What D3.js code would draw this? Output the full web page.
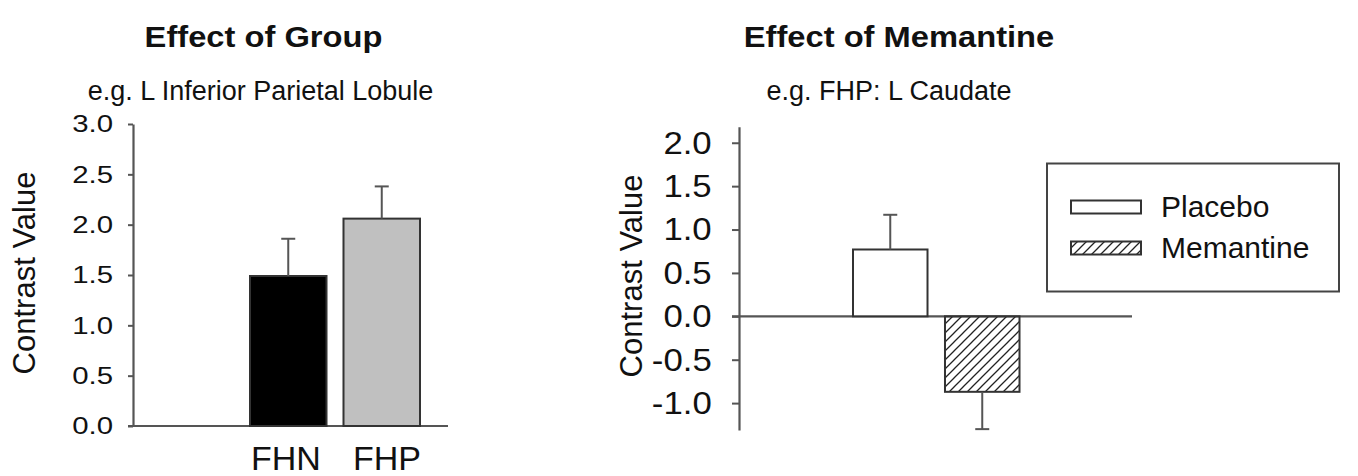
<!DOCTYPE html>
<html>
<head>
<meta charset="utf-8">
<script src="https://cdn.jsdelivr.net/npm/d3@7"></script>
<style>
  html, body { margin: 0; padding: 0; background: #fff; }
  svg { display: block; }
  text { font-family: "Liberation Sans", Arial, Helvetica, sans-serif; fill: #111; }
</style>
</head>
<body>
<svg id="chart" width="1358" height="476"></svg>
<script>
// ---------- data ----------
const groupCategories = ["FHN", "FHP"];
const groupMeans = [1.49, 2.06];
const groupSE = [0.37, 0.32];
const groupTicks = [0.0, 0.5, 1.0, 1.5, 2.0, 2.5, 3.0];

const drugCategories = ["Placebo", "Memantine"];
const drugMeans = [0.77, -0.87];
const drugSE = [0.40, 0.43];
const drugTicks = [-1.0, -0.5, 0.0, 0.5, 1.0, 1.5, 2.0];

const titles = ["Effect of Group", "Effect of Memantine"];
const subtitles = ["e.g. L Inferior Parietal Lobule", "e.g. FHP: L Caudate"];
const yLabel = "Contrast Value";

// ---------- setup ----------
const svg = d3.select("#chart");
const axisColor = "#555";
const barStroke = "#333";

const defs = svg.append("defs");
defs.append("pattern")
  .attr("id", "hatch")
  .attr("patternUnits", "userSpaceOnUse")
  .attr("width", 9).attr("height", 9)
  .append("path")
  .attr("d", "M-2,2 L2,-2 M0,9 L9,0 M7,11 L11,7")
  .attr("stroke", "#222").attr("stroke-width", 1.3);

function stretchedText(g, txt, x, y, size, weight, sx) {
  return g.append("text")
    .attr("transform", `translate(${x},${y}) scale(${sx},1)`)
    .attr("text-anchor", "middle")
    .attr("font-size", size)
    .attr("font-weight", weight)
    .text(txt);
}

// titles
stretchedText(svg, titles[0], 263.5, 47, 30, "bold", 1.09);
stretchedText(svg, titles[1], 899, 47, 30, "bold", 1.09);
stretchedText(svg, subtitles[0], 260.5, 100, 27, "normal", 1);
stretchedText(svg, subtitles[1], 889, 100, 27, "normal", 1);

// ---------- left panel ----------
const yL = d3.scaleLinear().domain([0, 3]).range([426, 124]);
const xL = d3.scaleBand().domain(groupCategories).range([250, 420]).paddingInner(0.1818).paddingOuter(0);
const xLabelL = d3.scalePoint().domain(groupCategories).range([286, 387]);

const gL = svg.append("g");
const axL = gL.append("g").attr("transform", "translate(133,0)")
  .call(d3.axisLeft(yL).tickValues(groupTicks).tickFormat(d3.format(".1f")).tickSize(5).tickSizeOuter(0));
axL.select(".domain").attr("stroke", axisColor).attr("stroke-width", 2.2);
axL.selectAll(".tick line").attr("stroke", axisColor).attr("stroke-width", 2);
axL.selectAll(".tick text")
  .attr("font-size", 23.5).attr("font-family", "Liberation Sans, Arial, sans-serif")
  .attr("fill", "#111")
  .attr("x", -20 / 1.25).attr("dy", "0.34em")
  .attr("transform", "scale(1.25,1)");

// baseline
gL.append("line").attr("x1", 128).attr("x2", 448).attr("y1", yL(0)).attr("y2", yL(0))
  .attr("stroke", axisColor).attr("stroke-width", 2.2);

const groupFills = ["#000000", "#c0c0c0"];
gL.selectAll("rect.bar").data(groupCategories).join("rect")
  .attr("class", "bar")
  .attr("x", d => xL(d))
  .attr("width", xL.bandwidth())
  .attr("y", (d, i) => yL(groupMeans[i]))
  .attr("height", (d, i) => yL(0) - yL(groupMeans[i]))
  .attr("fill", (d, i) => groupFills[i])
  .attr("stroke", barStroke).attr("stroke-width", 2);

// error bars
groupCategories.forEach((d, i) => {
  const cx = xL(d) + xL.bandwidth() / 2;
  const top = yL(groupMeans[i] + groupSE[i]);
  gL.append("line").attr("x1", cx).attr("x2", cx).attr("y1", yL(groupMeans[i])).attr("y2", top)
    .attr("stroke", axisColor).attr("stroke-width", 2);
  gL.append("line").attr("x1", cx - 7).attr("x2", cx + 7).attr("y1", top).attr("y2", top)
    .attr("stroke", axisColor).attr("stroke-width", 2);
});

// x labels
gL.selectAll("text.xl").data(groupCategories).join("text")
  .attr("class", "xl")
  .attr("x", d => xLabelL(d)).attr("y", 470)
  .attr("text-anchor", "middle").attr("font-size", 34)
  .text(d => d);

// y label
gL.append("text")
  .attr("transform", "translate(35,273) rotate(-90)")
  .attr("text-anchor", "middle").attr("font-size", 31)
  .text(yLabel);

// ---------- right panel ----------
const yR = d3.scaleLinear().domain([-1.31, 2.185]).range([430, 126.7]);
const xR = d3.scaleBand().domain(drugCategories).range([853, 1019.5]).paddingInner(0.19).paddingOuter(0);

const gR = svg.append("g");
const axR = gR.append("g").attr("transform", "translate(739,0)")
  .call(d3.axisLeft(yR).tickValues(drugTicks).tickFormat(d3.format(".1f")).tickSize(7).tickSizeOuter(0));
axR.select(".domain").attr("stroke", axisColor).attr("stroke-width", 2.2);
axR.selectAll(".tick line").attr("stroke", axisColor).attr("stroke-width", 2);
axR.selectAll(".tick text")
  .attr("font-size", 30.5).attr("font-family", "Liberation Sans, Arial, sans-serif")
  .attr("fill", "#111")
  .attr("x", -27.3 / 1.14).attr("dy", "0.34em")
  .attr("transform", "scale(1.14,1)")
  .text(d => d3.format(".1f")(d).replace("−", "-"));

// zero line
gR.append("line").attr("x1", 732).attr("x2", 1132).attr("y1", yR(0)).attr("y2", yR(0))
  .attr("stroke", axisColor).attr("stroke-width", 2.2);

const drugFills = ["#ffffff", "url(#hatch)"];
gR.selectAll("rect.bar").data(drugCategories).join("rect")
  .attr("class", "bar")
  .attr("x", d => xR(d))
  .attr("width", xR.bandwidth())
  .attr("y", (d, i) => Math.min(yR(0), yR(drugMeans[i])))
  .attr("height", (d, i) => Math.abs(yR(0) - yR(drugMeans[i])))
  .attr("fill", (d, i) => drugFills[i])
  .attr("stroke", barStroke).attr("stroke-width", 2);

drugCategories.forEach((d, i) => {
  const cx = xR(d) + xR.bandwidth() / 2;
  const sign = drugMeans[i] >= 0 ? 1 : -1;
  const end = yR(drugMeans[i] + sign * drugSE[i]);
  gR.append("line").attr("x1", cx).attr("x2", cx).attr("y1", yR(drugMeans[i])).attr("y2", end)
    .attr("stroke", axisColor).attr("stroke-width", 2);
  gR.append("line").attr("x1", cx - 7).attr("x2", cx + 7).attr("y1", end).attr("y2", end)
    .attr("stroke", axisColor).attr("stroke-width", 2);
});

gR.append("text")
  .attr("transform", "translate(642,276) rotate(-90)")
  .attr("text-anchor", "middle").attr("font-size", 31)
  .text(yLabel);

// legend
const leg = gR.append("g");
leg.append("rect").attr("x", 1047).attr("y", 163.5).attr("width", 292).attr("height", 128)
  .attr("fill", "#fff").attr("stroke", "#444").attr("stroke-width", 2);
const legRows = d3.scalePoint().domain(drugCategories).range([0, 41]);
const legItems = leg.selectAll("g.item").data(drugCategories).join("g")
  .attr("class", "item")
  .attr("transform", d => `translate(0,${legRows(d)})`);
legItems.append("rect")
  .attr("x", 1071).attr("y", 200.5).attr("width", 70).attr("height", 13)
  .attr("fill", (d, i) => drugFills[i])
  .attr("stroke", barStroke).attr("stroke-width", 2);
legItems.append("text")
  .attr("x", 1161).attr("y", 216.5)
  .attr("font-size", 30)
  .text(d => d);
</script>
</body>
</html>
